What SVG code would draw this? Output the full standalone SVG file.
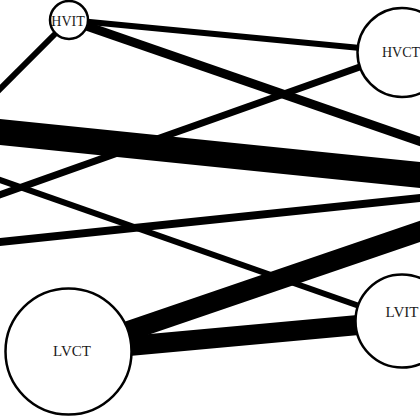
<svg xmlns="http://www.w3.org/2000/svg" width="420" height="420" viewBox="0 0 420 420">
  <style>
    .edge { stroke: #000; fill: none; stroke-linecap: butt; }
    .node circle { fill: #fff; stroke: #000; stroke-width: 2.5; }
    .node text { font-family: "Liberation Serif", "Times New Roman", serif; fill: #1a1a1a; text-anchor: middle; }
  </style>
  <rect width="420" height="420" fill="#fff"/>
  <g id="connectors">
    <line class="edge" x1="69" y1="20" x2="-12" y2="101" stroke-width="6"/>
    <line class="edge" x1="69" y1="20" x2="402" y2="52" stroke-width="6"/>
    <line class="edge" x1="69" y1="20" x2="430" y2="145" stroke-width="9"/>
    <line class="edge" x1="402" y1="52" x2="-10" y2="198.3" stroke-width="7"/>
    <line class="edge" x1="-10" y1="131" x2="430" y2="176" stroke-width="26"/>
    <line class="edge" x1="-10" y1="176.5" x2="402" y2="321" stroke-width="6"/>
    <line class="edge" x1="-10" y1="243" x2="430" y2="197" stroke-width="8"/>
    <line class="edge" x1="68.5" y1="351.5" x2="430" y2="228" stroke-width="20"/>
    <line class="edge" x1="68.5" y1="351.5" x2="402" y2="321" stroke-width="20"/>
  </g>
  <g id="node-HVIT" class="node">
    <circle cx="69" cy="20" r="19"/>
    <text x="68" y="26" font-size="14">HVIT</text>
  </g>
  <g id="node-HVCT" class="node">
    <circle cx="402" cy="52.5" r="44.5"/>
    <text x="401" y="57" font-size="14">HVCT</text>
  </g>
  <g id="node-LVIT" class="node">
    <circle cx="402" cy="321" r="46.5"/>
    <text x="402" y="317" font-size="15">LVIT</text>
  </g>
  <g id="node-LVCT" class="node">
    <circle cx="68.5" cy="351.5" r="63"/>
    <text x="72" y="356" font-size="15">LVCT</text>
  </g>
</svg>
